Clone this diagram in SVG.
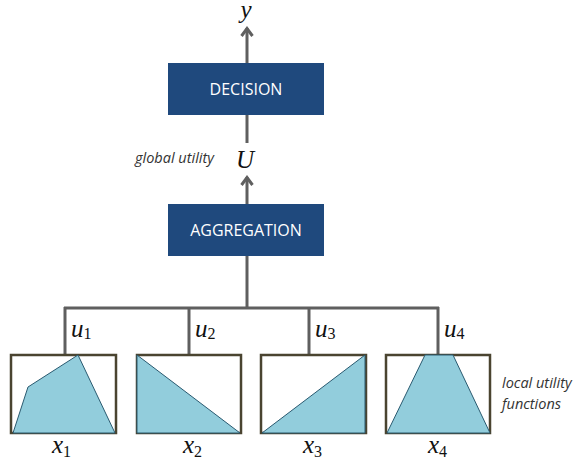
<svg xmlns="http://www.w3.org/2000/svg" width="576" height="459" viewBox="0 0 576 459">
<style>
.box{fill:#1f497d}
.bt{font-family:"Open Sans","Liberation Sans",sans-serif;font-size:16px;fill:#ffffff;text-anchor:middle}
.ln{stroke:#5f5f5f;stroke-width:3;fill:none}
.fr{fill:#ffffff;stroke:#4a4430;stroke-width:2.5}
.sh{fill:#92cddc;stroke:#2a5a70;stroke-width:1}
.m{font-family:"Liberation Serif","DejaVu Serif",serif;font-style:italic;font-size:25px;fill:#111}
.sub{font-style:normal;font-size:16px}
.note{font-family:"Open Sans","Liberation Sans",sans-serif;font-style:italic;font-size:14.5px;fill:#333}
</style>
<defs>
<marker id="ah" viewBox="0 0 12 14" refX="10" refY="7" markerWidth="12" markerHeight="14" markerUnits="userSpaceOnUse" orient="auto">
<path d="M2,1.5 L9.5,7 L2,12.5" fill="none" stroke="#5f5f5f" stroke-width="3"/>
</marker>
</defs>
<g id="connectors">
<line class="ln" x1="247" y1="63" x2="247" y2="28" marker-end="url(#ah)"/>
<line class="ln" x1="247" y1="115" x2="247" y2="143"/>
<line class="ln" x1="247" y1="204" x2="247" y2="177" marker-end="url(#ah)"/>
<line class="ln" x1="247" y1="256" x2="247" y2="308"/>
<line class="ln" x1="64" y1="308" x2="439" y2="308"/>
<line class="ln" x1="65" y1="307" x2="65" y2="355"/>
<line class="ln" x1="189" y1="307" x2="189" y2="355"/>
<line class="ln" x1="309" y1="307" x2="309" y2="355"/>
<line class="ln" x1="438" y1="307" x2="438" y2="355"/>
</g>
<g id="decision">
<rect class="box" x="168" y="63" width="156" height="52"/>
<text class="bt" x="246" y="95">DECISION</text>
</g>
<g id="aggregation">
<rect class="box" x="168" y="204" width="156" height="52"/>
<text class="bt" x="246" y="236">AGGREGATION</text>
</g>
<g id="y-label"><text class="m" x="246" y="18" text-anchor="middle">y</text></g>
<g id="U-label"><text class="m" x="245" y="168" text-anchor="middle">U</text></g>
<g id="global-utility"><text class="note" x="135" y="163">global utility</text></g>
<g id="f1">
<rect class="fr" x="11" y="355" width="105" height="78"/>
<polygon class="sh" points="13,433 28,387 78,355 115,433"/>
<text class="m" x="71" y="337">u<tspan class="sub" dy="2">1</tspan></text>
<text class="m" x="52" y="453">x<tspan class="sub" dy="4">1</tspan></text>
</g>
<g id="f2">
<rect class="fr" x="137" y="355" width="104" height="78"/>
<polygon class="sh" points="137,355 137,433 240,433"/>
<text class="m" x="195" y="337">u<tspan class="sub" dy="2">2</tspan></text>
<text class="m" x="183" y="453">x<tspan class="sub" dy="4">2</tspan></text>
</g>
<g id="f3">
<rect class="fr" x="261" y="355" width="105" height="78"/>
<polygon class="sh" points="262,433 365,355 365,433"/>
<text class="m" x="315" y="337">u<tspan class="sub" dy="2">3</tspan></text>
<text class="m" x="303" y="453">x<tspan class="sub" dy="4">3</tspan></text>
</g>
<g id="f4">
<rect class="fr" x="386" y="355" width="104" height="78"/>
<polygon class="sh" points="387,433 425,355 453,355 490,433"/>
<text class="m" x="444" y="337">u<tspan class="sub" dy="2">4</tspan></text>
<text class="m" x="428" y="453">x<tspan class="sub" dy="4">4</tspan></text>
</g>
<g id="local-utility">
<text class="note" x="502" y="388">local utility</text>
<text class="note" x="502" y="409">functions</text>
</g>
</svg>
